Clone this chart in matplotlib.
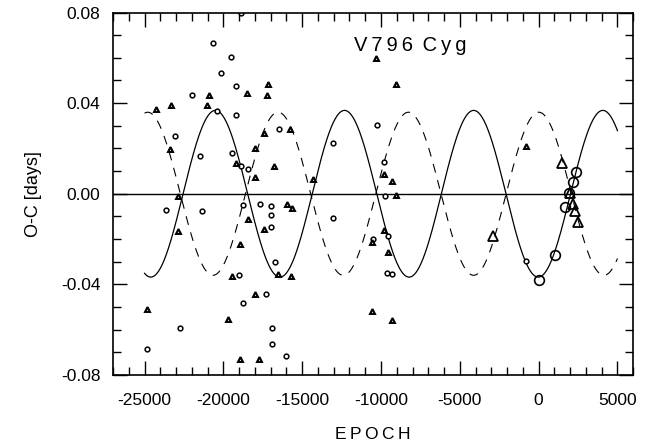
import matplotlib
matplotlib.use("Agg")
import matplotlib.pyplot as plt
from matplotlib.ticker import MultipleLocator, FuncFormatter
import numpy as np

plt.rcParams["font.family"] = ["Liberation Sans", "DejaVu Sans"]

# small open circles (epoch, O-C)
circ_e = [-18888, -20667, -19524, -20159, -19231, -21963, -20375, -19168, -23082,
          -21493, -19441, -18888, -18424, -23615, -21328, -18742, -17700, -18996,
          -18742, -22744, -24822, -16455, -10248, -13068, -9784, -16984, -16984,
          -16963, -13045, -16728, -17300, -16941, -16941, -16027, -9765, -10483,
          -9574, -9613, -9276, -781]
circ_v = [0.0796, 0.0667, 0.0603, 0.0534, 0.0474, 0.0435, 0.0365, 0.0346, 0.0257,
          0.0167, 0.0178, 0.0122, 0.0108, -0.0070, -0.0077, -0.0051, -0.0043, -0.0360,
          -0.0481, -0.0591, -0.0687, 0.0285, 0.0303, 0.0222, 0.0141, -0.0055, -0.0092,
          -0.0147, -0.0105, -0.0300, -0.0441, -0.0593, -0.0662, -0.0715, -0.0008, -0.0200,
          -0.0188, -0.0350, -0.0354, -0.0298]

# small triangles
tri_e = [-24290, -23336, -20921, -21048, -18488, -23380, -19168, -17980, -17980,
         -22872, -22853, -18468, -18932, -19460, -18024, -24841, -19676, -18977,
         -17770, -10311, -17198, -17236, -9040, -15775, -17408, -16773, -9784,
         -9296, -14339, -15968, -15674, -17428, -16518, -15712, -9040, -9828,
         -10546, -9574, -10546, -9295, -781]
tri_v = [0.0373, 0.0391, 0.0435, 0.0393, 0.0443, 0.0197, 0.0136, 0.0202, 0.0074,
         -0.0010, -0.0164, -0.0110, -0.0220, -0.0365, -0.0441, -0.0507, -0.0552, -0.0728,
         -0.0728, 0.0598, 0.0483, 0.0438, 0.0483, 0.0288, 0.0269, 0.0122, 0.0086,
         0.0055, 0.0064, -0.0043, -0.0063, -0.0154, -0.0356, -0.0365, -0.0004, -0.0158,
         -0.0213, -0.0256, -0.0518, -0.0556, 0.0210]

# large (modern) circles and triangles
bcirc_e = [2351, 2180, 1925, 1696, 0, 1059]
bcirc_v = [0.0097, 0.0052, 0.0004, -0.0058, -0.0382, -0.0269]
btri_e = [1505, 2013, 2180, 2290, 2497, -2903]
btri_v = [0.0134, 0.0004, -0.0043, -0.0076, -0.0125, -0.0188]

# fitted sinusoids: amplitude, period, reference epoch
solid_amp, solid_per, solid_t0 = 0.0368, 8193.0, -24605.0
dash_amp, dash_per, dash_t0 = 0.0360, 8268.0, -24798.0

fig = plt.figure(figsize=(6.61, 4.48), dpi=100)
ax = fig.add_axes([0.171, 0.163, 0.787, 0.809])

ep = np.linspace(-25000, 5000, 1500)
ax.plot(ep, -solid_amp * np.cos(2 * np.pi * (ep - solid_t0) / solid_per),
        color="black", lw=0.9)
ax.plot(ep, dash_amp * np.cos(2 * np.pi * (ep - dash_t0) / dash_per),
        color="black", lw=0.8, linestyle=(0, (8, 7)))
ax.axhline(0, color="black", lw=1.0)

ax.plot(circ_e, circ_v, "o", ms=3.4, mfc="white", mec="black", mew=1.1)
ax.plot(tri_e, tri_v, "^", ms=3.5, mfc="white", mec="black", mew=1.5)
ax.plot(bcirc_e, bcirc_v, "o", ms=7, mfc="none", mec="black", mew=1.2)
ax.plot(btri_e, btri_v, "^", ms=7.5, mfc="none", mec="black", mew=1.3)

ax.set_xlim(-27000, 6000)
ax.set_ylim(-0.08, 0.08)
ax.xaxis.set_major_locator(MultipleLocator(5000))
ax.xaxis.set_minor_locator(MultipleLocator(1000))
ax.yaxis.set_major_locator(MultipleLocator(0.04))
ax.yaxis.set_minor_locator(MultipleLocator(0.01))
ax.xaxis.set_major_formatter(FuncFormatter(lambda v, _: f"{v:.0f}"))
ax.yaxis.set_major_formatter(FuncFormatter(lambda v, _: f"{v:.2f}"))
ax.tick_params(which="both", direction="in", top=True, right=True, labelsize=12.5,
               width=1.0)
ax.tick_params(which="major", length=10)
ax.tick_params(which="minor", length=6)
ax.tick_params(axis="x", pad=13)
ax.tick_params(axis="y", pad=9)
for spine in ax.spines.values():
    spine.set_linewidth(1.2)

ax.text(0.571, 0.91, "V\u20097\u20099\u20096 \u2009C\u2009y\u2009g", transform=ax.transAxes,
        fontsize=14.5, ha="center", va="center")
ax.set_xlabel("E\u2009P\u2009O\u2009C\u2009H", fontsize=12.5, labelpad=14)
ax.set_ylabel("O-C [days]", fontsize=13, labelpad=14)

fig.savefig("out.png", dpi=100)
